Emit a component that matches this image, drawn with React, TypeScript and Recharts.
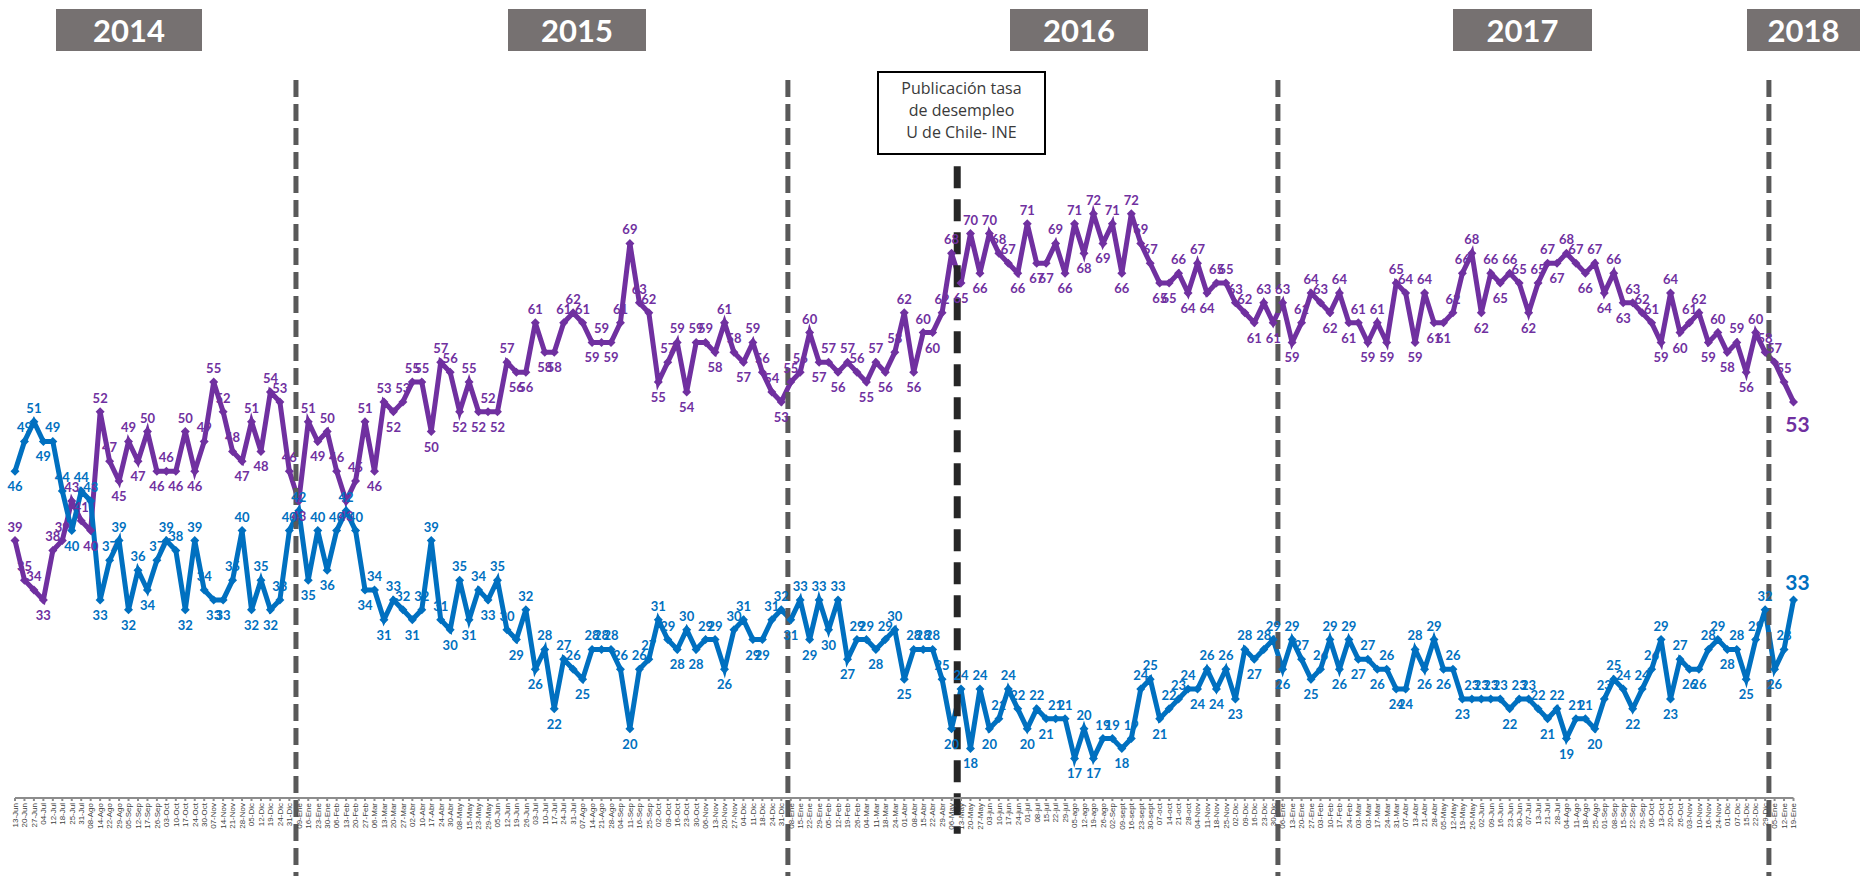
import React from 'react'
import { LineChart, Line, XAxis, YAxis, ReferenceLine, LabelList } from 'recharts'

const FECHAS_2014 = [
  '13-Jun', '20-Jun', '27-Jun', '04-Jul', '12-Jul', '18-Jul', '25-Jul', '31-Jul', '08-Ago', '14-Ago',
  '22-Ago', '29-Ago', '05-Sep', '12-Sep', '17-Sep', '26-Sep', '03-Oct', '10-Oct', '17-Oct', '24-Oct',
  '30-Oct', '07-Nov', '14-Nov', '21-Nov', '28-Nov', '05-Dic', '12-Dic', '19-Dic', '24-Dic', '31-Dic'
]
const FECHAS_2015 = [
  '09-Ene', '16-Ene', '23-Ene', '30-Ene', '06-Feb', '13-Feb', '20-Feb', '27-Feb', '06-Mar', '13-Mar',
  '20-Mar', '27-Mar', '02-Abr', '10-Abr', '17-Abr', '24-Abr', '30-Abr', '08-May', '15-May', '23-May',
  '29-May', '05-Jun', '12-Jun', '19-Jun', '26-Jun', '03-Jul', '10-Jul', '17-Jul', '24-Jul', '31-Jul',
  '07-Ago', '14-Ago', '21-Ago', '28-Ago', '04-Sep', '11-Sep', '16-Sep', '25-Sep', '02-Oct', '09-Oct',
  '16-Oct', '23-Oct', '30-Oct', '06-Nov', '13-Nov', '20-Nov', '27-Nov', '04-Dic', '11-Dic', '18-Dic',
  '24-Dic', '31-Dic'
]
const FECHAS_2016 = [
  '08-Ene', '15-Ene', '22-Ene', '29-Ene', '05-Feb', '12-Feb', '19-Feb', '26-Feb', '04-Mar', '11-Mar',
  '18-Mar', '24-Mar', '01-Abr', '08-Abr', '15-Abr', '22-Abr', '29-Abr', '06-May', '13-May', '20-May',
  '27-May', '03-jun', '10-jun', '17-jun', '24-jun', '01-jul', '08-jul', '15-jul', '22-jul', '29-jul',
  '05-ago', '12-ago', '19-ago', '26-ago', '02-Sep', '09-sept', '16-sept', '23-sept', '30-sept', '07-oct',
  '14-oct', '21-oct', '28-oct', '04-Nov', '11-Nov', '18-Nov', '25-Nov', '02-Dic', '09-Dic', '16-Dic',
  '23-Dic', '30-Dic'
]
const FECHAS_2017 = [
  '06-Ene', '13-Ene', '20-Ene', '27-Ene', '03-Feb', '10-Feb', '17-Feb', '24-Feb', '03-Mar', '03-Mar',
  '17-Mar', '24-Mar', '31-Mar', '07-Abr', '13-Abr', '21-Abr', '28-Abr', '05-May', '12-May', '19-May',
  '26-May', '02-Jun', '09-Jun', '16-Jun', '23-Jun', '30-Jun', '07-Jul', '13-Jul', '21-Jul', '28-Jul',
  '04-Ago', '11-Ago', '18-Ago', '25-Ago', '01-Sep', '08-Sep', '15-Sep', '22-Sep', '29-Sep', '06-Oct',
  '13-Oct', '20-Oct', '26-Oct', '03-Nov', '10-Nov', '16-Nov', '24-Nov', '01-Dic', '07-Dic', '15-Dic',
  '22-Dic', '29-Dic'
]
const FECHAS_2018 = ['05-Ene', '12-Ene', '19-Ene']

// desaprobación (morado)
const DESAPRUEBA_2014 = [39, 35, 34, 33, 38, 39, 43, 41, 40, 52, 47, 45, 49, 47, 50, 46, 46, 46, 50, 46, 49, 55, 52, 48, 47, 51, 48, 54, 53, 46]
const DESAPRUEBA_2015 = [
  43, 51, 49, 50, 46, 43, 45, 51, 46, 53, 52, 53, 55, 55, 50, 57, 56, 52, 55, 52,
  52, 52, 57, 56, 56, 61, 58, 58, 61, 62, 61, 59, 59, 59, 61, 69, 63, 62, 55, 57,
  59, 54, 59, 59, 58, 61, 58, 57, 59, 56, 54, 53
]
const DESAPRUEBA_2016 = [
  55, 56, 60, 57, 57, 56, 57, 56, 55, 57, 56, 58, 62, 56, 60, 60, 62, 68, 65, 70,
  66, 70, 68, 67, 66, 71, 67, 67, 69, 66, 71, 68, 72, 69, 71, 66, 72, 69, 67, 65,
  65, 66, 64, 67, 64, 65, 65, 63, 62, 61, 63, 61
]
const DESAPRUEBA_2017 = [
  63, 59, 61, 64, 63, 62, 64, 61, 61, 59, 61, 59, 65, 64, 59, 64, 61, 61, 62, 66,
  68, 62, 66, 65, 66, 65, 62, 65, 67, 67, 68, 67, 66, 67, 64, 66, 63, 63, 62, 61,
  59, 64, 60, 61, 62, 59, 60, 58, 59, 56, 60, 58
]
const DESAPRUEBA_2018 = [57, 55, 53]

// aprobación (azul)
const APRUEBA_2014 = [46, 49, 51, 49, 49, 44, 40, 44, 43, 33, 37, 39, 32, 36, 34, 37, 39, 38, 32, 39, 34, 33, 33, 35, 40, 32, 35, 32, 33, 40]
const APRUEBA_2015 = [
  42, 35, 40, 36, 40, 42, 40, 34, 34, 31, 33, 32, 31, 32, 39, 31, 30, 35, 31, 34,
  33, 35, 30, 29, 32, 26, 28, 22, 27, 26, 25, 28, 28, 28, 26, 20, 26, 27, 31, 29,
  28, 30, 28, 29, 29, 26, 30, 31, 29, 29, 31, 32
]
const APRUEBA_2016 = [
  31, 33, 29, 33, 30, 33, 27, 29, 29, 28, 29, 30, 25, 28, 28, 28, 25, 20, 24, 18,
  24, 20, 21, 24, 22, 20, 22, 21, 21, 21, 17, 20, 17, 19, 19, 18, 19, 24, 25, 21,
  22, 23, 24, 24, 26, 24, 26, 23, 28, 27, 28, 29
]
const APRUEBA_2017 = [
  26, 29, 27, 25, 26, 29, 26, 29, 27, 27, 26, 26, 24, 24, 28, 26, 29, 26, 26, 23,
  23, 23, 23, 23, 22, 23, 23, 22, 21, 22, 19, 21, 21, 20, 23, 25, 24, 22, 24, 26,
  29, 23, 27, 26, 26, 28, 29, 28, 28, 25, 29, 32
]
const APRUEBA_2018 = [26, 28, 33]

const FECHAS = [...FECHAS_2014, ...FECHAS_2015, ...FECHAS_2016, ...FECHAS_2017, ...FECHAS_2018]
const DESAPRUEBA = [...DESAPRUEBA_2014, ...DESAPRUEBA_2015, ...DESAPRUEBA_2016, ...DESAPRUEBA_2017, ...DESAPRUEBA_2018]
const APRUEBA = [...APRUEBA_2014, ...APRUEBA_2015, ...APRUEBA_2016, ...APRUEBA_2017, ...APRUEBA_2018]

// cambios de año (en posiciones del eje, entre semanas)
const CORTES_ANIO = [29.7, 81.7, 133.5, 185.4]
const PUBLICACION_INE = 99.6

const ANIOS = [
  { anio: '2014', left: 56, width: 146 },
  { anio: '2015', left: 508, width: 138 },
  { anio: '2016', left: 1010, width: 138 },
  { anio: '2017', left: 1453, width: 139 },
  { anio: '2018', left: 1747, width: 113 },
]

const MORADO = '#7030A0'
const AZUL = '#0070C0'

const data = FECHAS.map((fecha, i) => ({
  idx: i,
  fecha,
  desaprueba: DESAPRUEBA[i],
  aprueba: APRUEBA[i],
}))

const TICKS = FECHAS.map((_, i) => i)

const diamante = (color: string) => (p: any) => {
  const { cx, cy, index } = p
  if (cx == null || cy == null) return <g key={`d-${index}`} />
  const r = 4.5
  return (
    <polygon
      key={`d-${index}`}
      points={`${cx},${cy - r} ${cx + r},${cy} ${cx},${cy + r} ${cx - r},${cy}`}
      fill={color}
    />
  )
}

const etiqueta = (serie: number[], color: string, finalAbajo: boolean) => (p: any) => {
  const { x, y, value, index } = p
  if (x == null || y == null) return null
  const ultimo = index === serie.length - 1
  if (ultimo) {
    return (
      <text
        key={`l-${index}`}
        x={x + 4}
        y={finalAbajo ? y + 30 : y - 10}
        textAnchor="middle"
        fontSize={21}
        fontWeight={700}
        fontFamily="Lato, 'Open Sans', sans-serif"
        fill={color}
      >
        {value}
      </text>
    )
  }
  const v = serie[index]
  const prev = index > 0 ? serie[index - 1] : v
  const next = serie[index + 1] ?? v
  const abajo = (v < prev && v <= next) || (v <= prev && v < next)
  return (
    <text
      key={`l-${index}`}
      x={x}
      y={abajo ? y + 20 : y - 9}
      textAnchor="middle"
      fontSize={13}
      fontWeight={700}
      fontFamily="Lato, 'Open Sans', sans-serif"
      fill={color}
    >
      {value}
    </text>
  )
}

const FechaTick = (props: any) => {
  const { x, y, payload } = props
  return (
    <g transform={`translate(${x},${y}) rotate(-90)`}>
      <text x={0} y={0} dy="0.35em" textAnchor="end" fontSize={8} fill="#404040" fontFamily="Arial, 'Liberation Sans', sans-serif">
        {FECHAS[payload.value]}
      </text>
    </g>
  )
}

export default function App() {
  return (
    <div style={{ position: 'absolute', left: 0, top: 0, width: 1860, height: 876, background: '#fff', overflow: 'hidden' }}>
      {ANIOS.map((a) => (
        <div
          key={a.anio}
          style={{
            position: 'absolute',
            top: 9,
            left: a.left,
            width: a.width,
            height: 42,
            background: '#767171',
            color: '#fff',
            fontFamily: "Lato, 'Open Sans', sans-serif",
            fontWeight: 700,
            fontSize: 31,
            lineHeight: '42px',
            textAlign: 'center',
          }}
        >
          {a.anio}
        </div>
      ))}
      <div
        style={{
          position: 'absolute',
          left: 877,
          top: 71,
          width: 165,
          height: 76,
          border: '2px solid #000',
          background: '#fff',
          fontFamily: "'Open Sans', Lato, sans-serif",
          fontSize: 16,
          lineHeight: '22px',
          color: '#3a3a3a',
          textAlign: 'center',
          paddingTop: 4,
          boxSizing: 'content-box',
        }}
      >
        Publicación tasa
        <br />
        de desempleo
        <br />
        U de Chile- INE
      </div>
      <div style={{ position: 'absolute', left: 0, top: 0 }}>
        <LineChart width={1860} height={876} data={data} margin={{ top: 134.5, right: 66.5, left: 15, bottom: 0 }}>
          <XAxis
            dataKey="idx"
            type="number"
            domain={[0, FECHAS.length - 1]}
            ticks={TICKS}
            interval={0}
            height={78}
            tick={<FechaTick />}
            tickSize={3}
            tickMargin={2}
            stroke="#8c8c8c"
            strokeWidth={2}
          />
          <YAxis hide domain={[13, 80]} allowDataOverflow />
          <Line
            type="linear"
            dataKey="desaprueba"
            stroke={MORADO}
            strokeWidth={5}
            dot={diamante(MORADO)}
            activeDot={false}
            isAnimationActive={false}
          >
            <LabelList dataKey="desaprueba" content={etiqueta(DESAPRUEBA, MORADO, true)} />
          </Line>
          <Line
            type="linear"
            dataKey="aprueba"
            stroke={AZUL}
            strokeWidth={5}
            dot={diamante(AZUL)}
            activeDot={false}
            isAnimationActive={false}
          >
            <LabelList dataKey="aprueba" content={etiqueta(APRUEBA, AZUL, false)} />
          </Line>
          {CORTES_ANIO.map((c) => (
            <ReferenceLine
              key={c}
              segment={[{ x: c, y: 85.5 }, { x: c, y: 4 }]}
              stroke="#595959"
              strokeWidth={5}
              strokeDasharray="17 7"
              ifOverflow="visible"
            />
          ))}
          <ReferenceLine
            segment={[{ x: PUBLICACION_INE, y: 76.8 }, { x: PUBLICACION_INE, y: 9.4 }]}
            stroke="#262626"
            strokeWidth={7}
            strokeDasharray="22 11"
            ifOverflow="visible"
          />
        </LineChart>
      </div>
    </div>
  )
}
